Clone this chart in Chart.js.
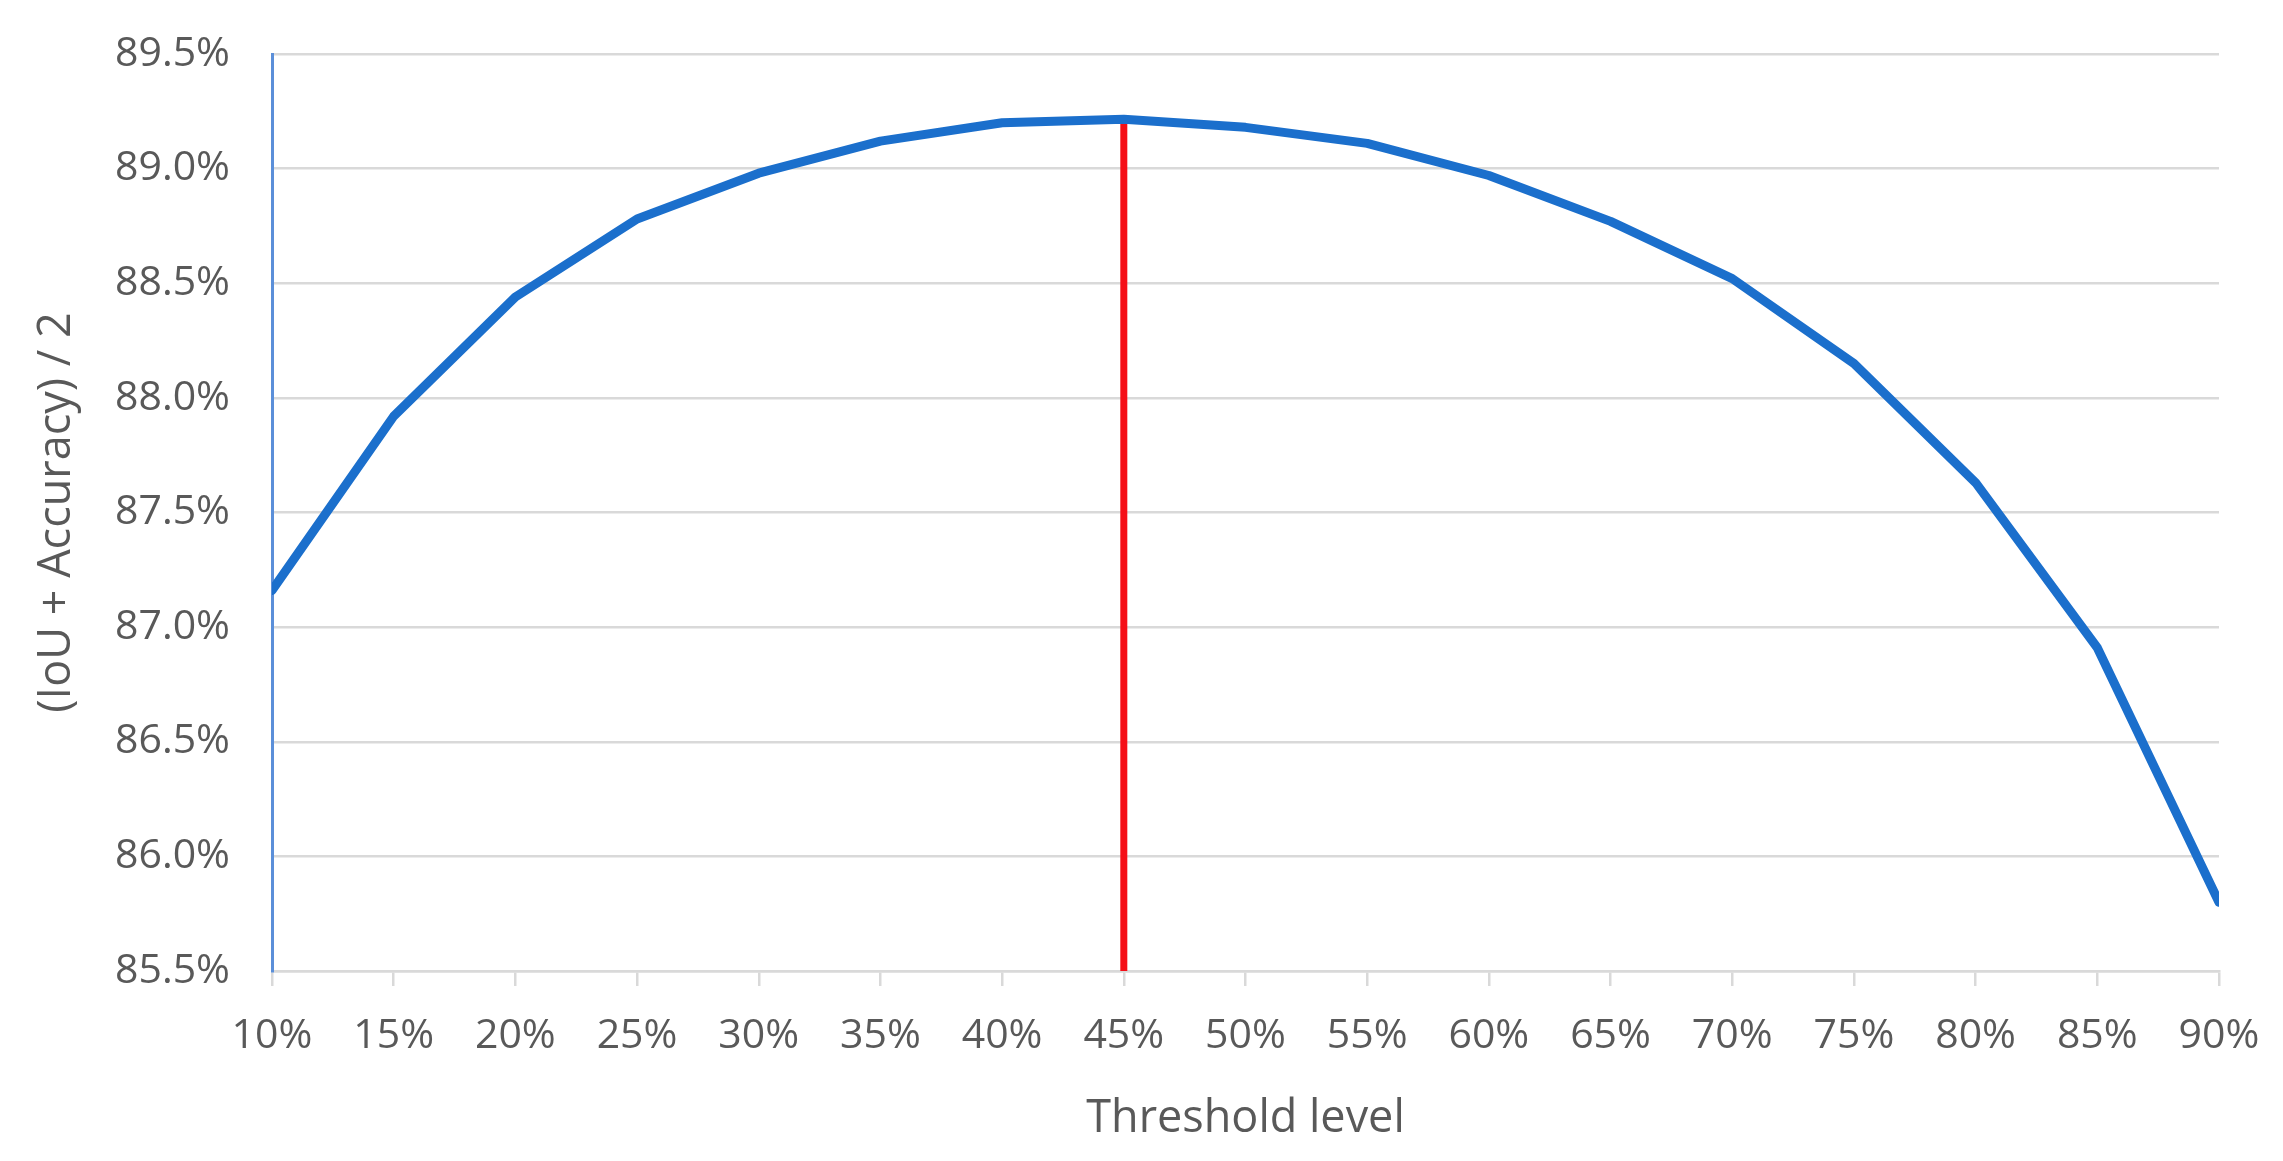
<!DOCTYPE html>
<html>
<head>
<meta charset="utf-8">
<script src="https://cdn.jsdelivr.net/npm/chart.js@4.4.1/dist/chart.umd.min.js"></script>
<style>
  html, body { margin: 0; padding: 0; background: #fff; }
  #wrap { width: 2283px; height: 1161px; position: relative; }
</style>
</head>
<body>
<div id="wrap"><canvas id="chart"></canvas></div>
<script>
// threshold level (%) and the (IoU + Accuracy) / 2 score (%)
const thresholds = [10, 15, 20, 25, 30, 35, 40, 45, 50, 55, 60, 65, 70, 75, 80, 85, 90];
const scores = [87.16, 87.92, 88.44, 88.78, 88.98, 89.12, 89.20, 89.215, 89.18, 89.11, 88.97, 88.77, 88.52, 88.15, 87.63, 86.91, 85.80];
const yTicks = [85.5, 86.0, 86.5, 87.0, 87.5, 88.0, 88.5, 89.0, 89.5];
const bestThreshold = 45;

const textColor = "#595959";
const gridColor = "#d9d9d9";
const font = "'Open Sans', 'Noto Sans', sans-serif";

const bestScore = scores[thresholds.indexOf(bestThreshold)];

new Chart(document.getElementById("chart"), {
  type: "line",
  data: {
    datasets: [
      {
        data: thresholds.map((t, i) => ({ x: t, y: scores[i] })),
        borderColor: "#1b6fcc",
        borderWidth: 9,
        pointRadius: 0,
        tension: 0,
        borderJoinStyle: "round",
        borderCapStyle: "round",
      },
      {
        data: [
          { x: bestThreshold, y: yTicks[0] },
          { x: bestThreshold, y: bestScore },
        ],
        borderColor: "#f50f17",
        borderWidth: 7,
        pointRadius: 0,
        borderCapStyle: "round",
      },
    ],
  },
  options: {
    responsive: true,
    maintainAspectRatio: false,
    animation: false,
    layout: { padding: { left: 0, right: 64, top: 54, bottom: 0 } },
    plugins: { legend: { display: false }, tooltip: { enabled: false } },
    scales: {
      x: {
        type: "linear",
        min: thresholds[0],
        max: thresholds[thresholds.length - 1],
        afterBuildTicks: (scale) => {
          scale.ticks = thresholds.map((v) => ({ value: v }));
        },
        afterFit: (scale) => {
          scale.height = 190;
          scale.paddingLeft = 0;
          scale.paddingRight = 0;
        },
        border: { color: gridColor, width: 2.5 },
        grid: {
          drawOnChartArea: false,
          drawTicks: true,
          tickLength: 15,
          color: gridColor,
          lineWidth: 2.5,
        },
        ticks: {
          autoSkip: false,
          maxRotation: 0,
          padding: 26,
          color: textColor,
          font: { family: font, size: 41 },
          callback: (v) => v + "%",
        },
        title: {
          display: true,
          text: "Threshold level",
          color: textColor,
          font: { family: font, size: 45 },
          padding: { top: 0, bottom: 15 },
        },
      },
      y: {
        min: yTicks[0],
        max: yTicks[yTicks.length - 1],
        afterBuildTicks: (scale) => {
          scale.ticks = yTicks.map((v) => ({ value: v }));
        },
        afterFit: (scale) => {
          scale.width = 272;
          scale.paddingTop = 0;
          scale.paddingBottom = 0;
        },
        border: { color: "#5b8fd9", width: 3 },
        grid: { color: gridColor, lineWidth: 2.5, drawTicks: false },
        ticks: {
          padding: 42,
          color: textColor,
          font: { family: font, size: 41 },
          callback: (v) => v.toFixed(1) + "%",
        },
        title: {
          display: true,
          text: "(IoU + Accuracy) / 2",
          color: textColor,
          font: { family: font, size: 45 },
          padding: { top: 30, bottom: 0 },
        },
      },
    },
  },
});
</script>
</body>
</html>
